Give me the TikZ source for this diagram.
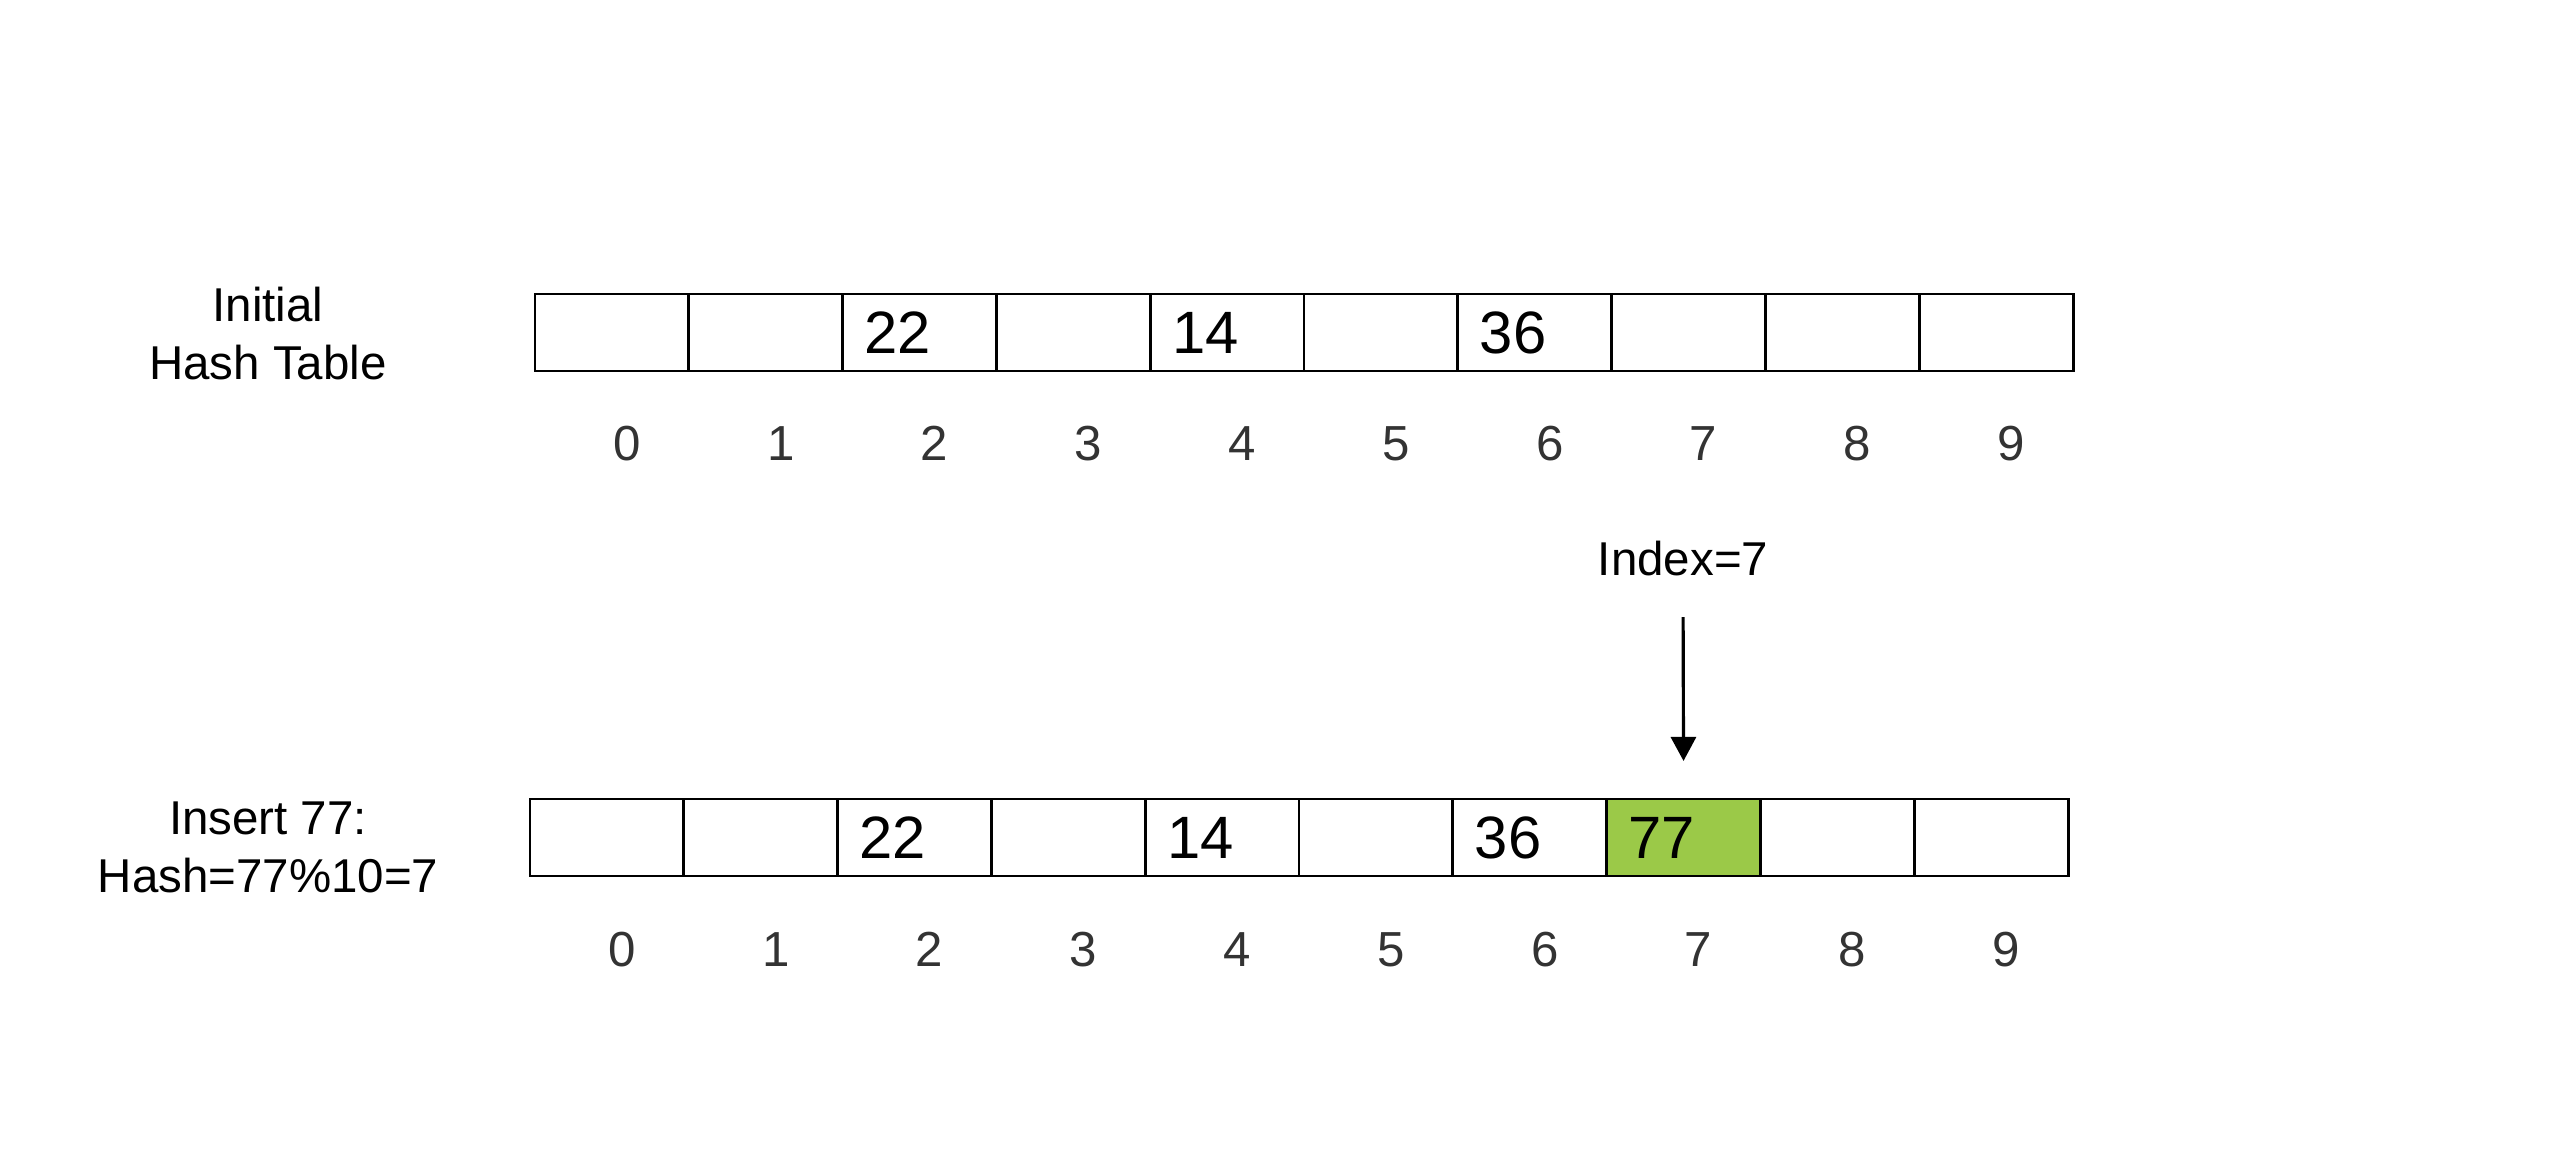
\documentclass[tikz,border=0pt]{standalone}
\usepackage{fontspec}
\setmainfont{Liberation Sans}
\usepackage{tikz}
\usetikzlibrary{calc}
\usetikzlibrary{positioning}
\usetikzlibrary{arrows.meta}
\definecolor{slotgreen}{RGB}{155,201,72}
\definecolor{idxgray}{RGB}{51,51,51}
\tikzset{
	slot/.style={rectangle, draw=black, line width=0.8pt, fill=white, outer sep=0pt, minimum height=0.77cm, minimum width=1.538cm, text width=1.10cm, inner xsep=0.22cm, inner ysep=0pt, align=left, anchor=south west, font=\fontsize{17}{17}\selectfont},
	idx/.style={text=idxgray, inner sep=0pt, font=\fontsize{14}{14}\selectfont},
	rowlabel/.style={align=center, inner sep=0pt, font=\fontsize{13.5}{16.5}\selectfont}
}

\begin{document}
\begin{tikzpicture}[x=0.01cm, y=-0.01cm]

\useasboundingbox (0,0) rectangle (2550,1172);

\node[rowlabel] (lbltop) at (268,334) {Initial\\Hash Table};
\node[rowlabel] (lblbot) at (268,847) {Insert 77:\\Hash=77\%10=7};

\node at (535,371)[slot] (a0) {};
\node at (688.8,371)[slot] (a1) {};
\node at (842.6,371)[slot] (a2) {22};
\node at (996.4,371)[slot] (a3) {};
\node at (1150.2,371)[slot] (a4) {14};
\node at (1304,371)[slot] (a5) {};
\node at (1457.8,371)[slot] (a6) {36};
\node at (1611.6,371)[slot] (a7) {};
\node at (1765.4,371)[slot] (a8) {};
\node at (1919.2,371)[slot] (a9) {};

\node[idx] (ta0) at ($(a0.center)+(15,111)$) {0};
\node[idx] (ta1) at ($(a1.center)+(15,111)$) {1};
\node[idx] (ta2) at ($(a2.center)+(15,111)$) {2};
\node[idx] (ta3) at ($(a3.center)+(15,111)$) {3};
\node[idx] (ta4) at ($(a4.center)+(15,111)$) {4};
\node[idx] (ta5) at ($(a5.center)+(15,111)$) {5};
\node[idx] (ta6) at ($(a6.center)+(15,111)$) {6};
\node[idx] (ta7) at ($(a7.center)+(15,111)$) {7};
\node[idx] (ta8) at ($(a8.center)+(15,111)$) {8};
\node[idx] (ta9) at ($(a9.center)+(15,111)$) {9};

\node at (530,876)[slot] (b0) {};
\node at (683.8,876)[slot] (b1) {};
\node at (837.6,876)[slot] (b2) {22};
\node at (991.4,876)[slot] (b3) {};
\node at (1145.2,876)[slot] (b4) {14};
\node at (1299,876)[slot] (b5) {};
\node at (1452.8,876)[slot] (b6) {36};
\node at (1606.6,876)[slot, fill=slotgreen] (b7) {77};
\node at (1760.4,876)[slot] (b8) {};
\node at (1914.2,876)[slot] (b9) {};

\node[idx] (tb0) at ($(b0.center)+(15,112)$) {0};
\node[idx] (tb1) at ($(b1.center)+(15,112)$) {1};
\node[idx] (tb2) at ($(b2.center)+(15,112)$) {2};
\node[idx] (tb3) at ($(b3.center)+(15,112)$) {3};
\node[idx] (tb4) at ($(b4.center)+(15,112)$) {4};
\node[idx] (tb5) at ($(b5.center)+(15,112)$) {5};
\node[idx] (tb6) at ($(b6.center)+(15,112)$) {6};
\node[idx] (tb7) at ($(b7.center)+(15,112)$) {7};
\node[idx] (tb8) at ($(b8.center)+(15,112)$) {8};
\node[idx] (tb9) at ($(b9.center)+(15,112)$) {9};

\node at (1683,559)[inner sep=0pt, font=\fontsize{13.5}{13.5}\selectfont] (hashidx) {Index=7};
\begin{scope}[>={Triangle[width=0.25cm, length=0.24cm]}]
	\draw [line width=0.9pt, ->, shorten <=0.4cm, shorten >=0.38cm] (hashidx.south) -- (b7.north);
\end{scope}

\end{tikzpicture}
\end{document}
